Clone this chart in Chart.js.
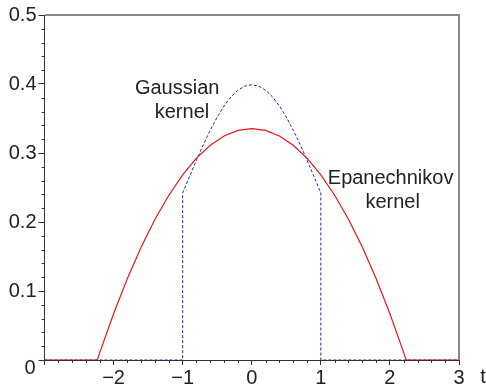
<!DOCTYPE html>
<html>
<head>
<meta charset="utf-8">
<script src="https://cdn.jsdelivr.net/npm/chart.js@4"></script>
<style>
html,body{margin:0;padding:0;background:#fff;}
canvas{display:block;}
</style>
</head>
<body>
<canvas id="c" width="486" height="389"></canvas>
<script>
// t values and Epanechnikov kernel values (red, solid)
const epaT = [-3, -2.236, -2.2, -2.0, -1.8, -1.6, -1.4, -1.2, -1.0, -0.8, -0.6, -0.4, -0.2, 0,
              0.2, 0.4, 0.6, 0.8, 1.0, 1.2, 1.4, 1.6, 1.8, 2.0, 2.2, 2.236, 3];
const epaValues = [0, 0, 0.0107, 0.0671, 0.1181, 0.1637, 0.2039, 0.2388, 0.2683, 0.2925, 0.3113, 0.3247, 0.3327, 0.3354,
                   0.3327, 0.3247, 0.3113, 0.2925, 0.2683, 0.2388, 0.2039, 0.1637, 0.1181, 0.0671, 0.0107, 0, 0];
// t values and truncated Gaussian kernel values (blue, dashed)
const gaussT = [-3, -1, -1, -0.9, -0.8, -0.7, -0.6, -0.5, -0.4, -0.3, -0.2, -0.1, 0,
                0.1, 0.2, 0.3, 0.4, 0.5, 0.6, 0.7, 0.8, 0.9, 1, 1, 3];
const gaussValues = [0, 0, 0.2420, 0.2661, 0.2897, 0.3123, 0.3332, 0.3521, 0.3683, 0.3814, 0.3910, 0.3970, 0.3989,
                     0.3970, 0.3910, 0.3814, 0.3683, 0.3521, 0.3332, 0.3123, 0.2897, 0.2661, 0.2420, 0, 0];
// axis ticks
const xTicks = [-3, -2, -1, 0, 1, 2, 3];
const yTicks = [0, 0.1, 0.2, 0.3, 0.4, 0.5];
// annotations: [text, t, y]
const annotations = [
  ["Gaussian", -1.08, 0.394],
  ["kernel", -1.01, 0.359],
  ["Epanechnikov", 2.01, 0.263],
  ["kernel", 2.04, 0.229]
];

const FONT = '20px "Liberation Sans", Arial, sans-serif';
const TXT = '#222';

const extras = {
  id: 'extras',
  afterDraw(chart) {
    const ctx = chart.ctx, a = chart.chartArea;
    const xs = chart.scales.x, ys = chart.scales.y;
    ctx.save();
    // frame top/right
    ctx.strokeStyle = '#888';
    ctx.lineWidth = 2;
    ctx.beginPath();
    ctx.moveTo(Math.round(a.left), 15);
    ctx.lineTo(459, 15);
    ctx.lineTo(459, Math.round(a.bottom));
    ctx.stroke();
    // minor ticks
    ctx.strokeStyle = '#333';
    ctx.lineWidth = 1;
    ctx.beginPath();
    for (let i = 0; i <= 25; i++) {
      if (i % 5 === 0) continue;
      const py = Math.round(ys.getPixelForValue(i * 0.02)) + 0.5;
      ctx.moveTo(a.left - 3, py); ctx.lineTo(a.left, py);
    }
    for (let i = -15; i <= 15; i++) {
      if (i % 5 === 0) continue;
      const px = Math.round(xs.getPixelForValue(i * 0.2)) + 0.5;
      ctx.moveTo(px, a.bottom); ctx.lineTo(px, a.bottom + 3);
    }
    ctx.stroke();
    // texts
    ctx.fillStyle = TXT;
    ctx.font = FONT;
    ctx.textAlign = 'center';
    ctx.textBaseline = 'middle';
    ctx.fillText('0', 30, 368);
    ctx.fillText('t', 483, 377);
    annotations.forEach(([s, t, v]) => {
      ctx.fillText(s, xs.getPixelForValue(t), ys.getPixelForValue(v));
    });
    ctx.restore();
  }
};

new Chart(document.getElementById('c'), {
  type: 'line',
  data: {
    datasets: [
      {
        label: 'Epanechnikov kernel',
        data: epaT.map((t, i) => ({x: t, y: epaValues[i]})),
        borderColor: 'rgb(238,20,20)',
        borderWidth: 1.2,
        pointRadius: 0,
        tension: 0,
        fill: false
      },
      {
        label: 'Gaussian kernel',
        data: gaussT.map((t, i) => ({x: t, y: gaussValues[i]})),
        borderColor: 'rgb(40,40,170)',
        borderWidth: 1,
        borderDash: [3, 2],
        pointRadius: 0,
        tension: 0,
        fill: false
      }
    ]
  },
  options: {
    responsive: false,
    animation: false,
    devicePixelRatio: 1,
    layout: {padding: {top: 15, right: 27, left: 0, bottom: 0}},
    plugins: {legend: {display: false}, tooltip: {enabled: false}},
    scales: {
      x: {
        type: 'linear',
        min: -3, max: 3,
        afterBuildTicks: s => { s.ticks = xTicks.map(v => ({value: v})); },
        afterFit: s => { s.height = 29; },
        ticks: {
          font: {family: '"Liberation Sans", Arial, sans-serif', size: 20},
          color: TXT,
          padding: 1,
          maxRotation: 0,
          autoSkip: false,
          callback: v => v === -3 ? '' : (v < 0 ? '\u2212' + Math.abs(v) : String(v))
        },
        grid: {drawOnChartArea: false, drawTicks: true, tickLength: 5, color: '#333'},
        border: {display: true, color: '#333', width: 1}
      },
      y: {
        type: 'linear',
        min: 0, max: 0.5,
        afterBuildTicks: s => { s.ticks = yTicks.map(v => ({value: v})); },
        afterFit: s => { s.width = 44.5; },
        ticks: {
          font: {family: '"Liberation Sans", Arial, sans-serif', size: 20},
          color: TXT,
          padding: 2,
          autoSkip: false,
          callback: v => v === 0 ? '' : v.toFixed(1)
        },
        grid: {drawOnChartArea: false, drawTicks: true, tickLength: 6, color: '#333'},
        border: {display: true, color: '#333', width: 1}
      }
    }
  },
  plugins: [extras]
});
</script>
</body>
</html>
